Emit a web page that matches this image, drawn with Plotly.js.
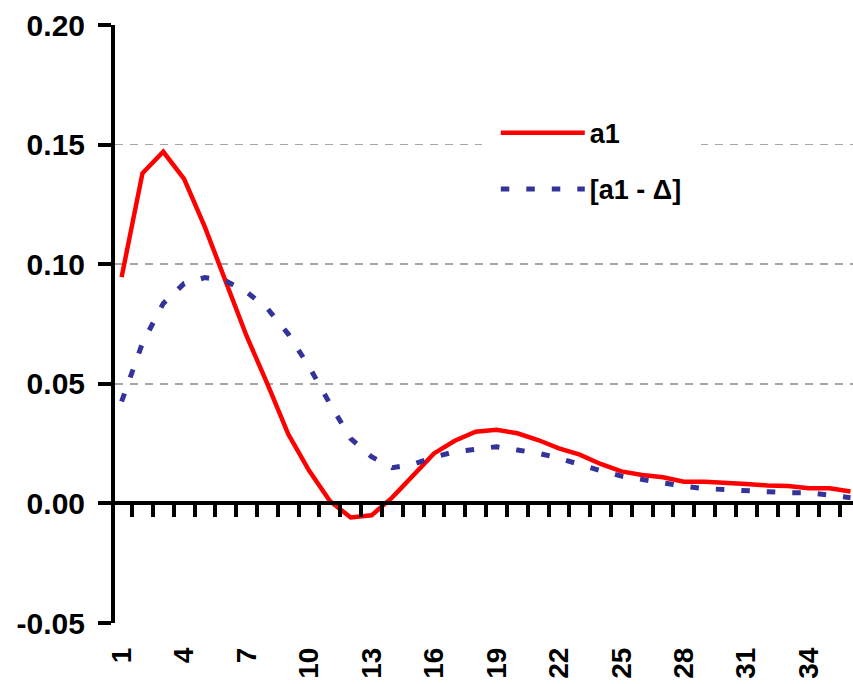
<!DOCTYPE html>
<html>
<head>
<meta charset="utf-8">
<script src="https://cdn.plot.ly/plotly-3.0.1.min.js"></script>
<style>
  html, body { margin: 0; padding: 0; background: #fff; }
  #chart { width: 853px; height: 684px; }
</style>
</head>
<body>
<div id="chart"></div>
<script>
const categories = [1,2,3,4,5,6,7,8,9,10,11,12,13,14,15,16,17,18,19,20,21,22,23,24,25,26,27,28,29,30,31,32,33,34,35,36];
const a1 = [0.0946,0.138,0.147,0.1357,0.1155,0.093,0.070,0.050,0.029,0.0137,0.001,-0.0059,-0.005,0.0025,0.0116,0.0209,0.0262,0.030,0.0308,0.0293,0.0265,0.023,0.0204,0.0165,0.0134,0.0119,0.0109,0.0091,0.0091,0.0084,0.0081,0.0075,0.0073,0.0063,0.0063,0.005];
const a1MinusDelta = [0.0426,0.067,0.0836,0.0919,0.0944,0.093,0.0884,0.0815,0.0708,0.0572,0.0417,0.0271,0.0195,0.0149,0.0164,0.0193,0.0216,0.0229,0.0237,0.0223,0.021,0.0189,0.0162,0.0137,0.0114,0.0099,0.0082,0.0072,0.0062,0.0056,0.0053,0.0049,0.0045,0.0045,0.0034,0.0024];
const tickValues = [1,4,7,10,13,16,19,22,25,28,31,34];
const tickLabels = ['1','4','7','10','13','16','19','22','25','28','31','34'];
const yTickValues = [-0.05, 0, 0.05, 0.10, 0.15, 0.20];
const yTickLabels = ['-0.05','0.00','0.05','0.10','0.15','0.20'];
const seriesNames = ['a1', '[a1 - Δ]'];

const FONT = 'Liberation Sans, Arial, sans-serif';

const traces = [
  {
    x: categories, y: a1, name: seriesNames[0], type: 'scatter', mode: 'lines',
    line: {color: '#FF0000', width: 4.5},
    legendgroup: 'g1'
  },
  {
    x: categories, y: a1MinusDelta, name: seriesNames[1], type: 'scatter', mode: 'lines',
    line: {color: '#333399', width: 5, dash: '8.5px,17px'},
    legendgroup: 'g2'
  },
  {
    x: [], y: [], xaxis: 'x2', yaxis: 'y2', showlegend: false, hoverinfo: 'skip', type: 'scatter'
  }
];

const layout = {
  width: 853, height: 684,
  margin: {l: 114.7, r: 0, t: 25.3, b: 61.3, pad: 0},
  paper_bgcolor: '#ffffff', plot_bgcolor: 'rgba(0,0,0,0)',
  font: {family: FONT, size: 29, color: '#000'},
  showlegend: true,
  legend: {
    x: 0.497, y: 0.8834, xanchor: 'left', yanchor: 'top',
    bgcolor: '#ffffff', bordercolor: '#ffffff', borderwidth: 14,
    font: {family: FONT, size: 27, color: '#000', weight: 'bold'},
    itemwidth: 84,
    traceorder: 'grouped', tracegroupgap: 18
  },
  xaxis: {
    type: 'linear', range: [0.682, 36.12],
    showline: false, showgrid: false, zeroline: false,
    ticks: '', tickvals: tickValues, ticktext: tickLabels,
    tickangle: -90, ticklabelstandoff: 18,
    tickfont: {family: FONT, size: 28, color: '#000', weight: 'bold'}
  },
  yaxis: {
    range: [-0.05, 0.20], tickvals: yTickValues, ticktext: yTickLabels,
    showline: true, linecolor: '#000', linewidth: 4,
    ticks: 'outside', ticklen: 13, tickwidth: 4, tickcolor: '#000',
    showgrid: true, gridcolor: '#a6a6a6', gridwidth: 1.5, griddash: '8px,7px',
    zeroline: false, ticklabelstandoff: 7,
    tickfont: {family: FONT, size: 30, color: '#000', weight: 'bold'}
  },
  xaxis2: {
    type: 'linear', range: [0.682, 36.12], anchor: 'y2', side: 'bottom', overlaying: 'x',
    showline: true, linecolor: '#000', linewidth: 4,
    ticks: 'outside', ticklen: 12, tickwidth: 4, tickcolor: '#000',
    tick0: 0.5, dtick: 1, showticklabels: false,
    showgrid: false, zeroline: false
  },
  yaxis2: {
    domain: [0.2034, 1], anchor: 'x2', range: [0, 0.20],
    visible: false, showgrid: false, zeroline: false
  }
};

Plotly.newPlot('chart', traces, layout, {displayModeBar: false, staticPlot: true});
</script>
</body>
</html>
